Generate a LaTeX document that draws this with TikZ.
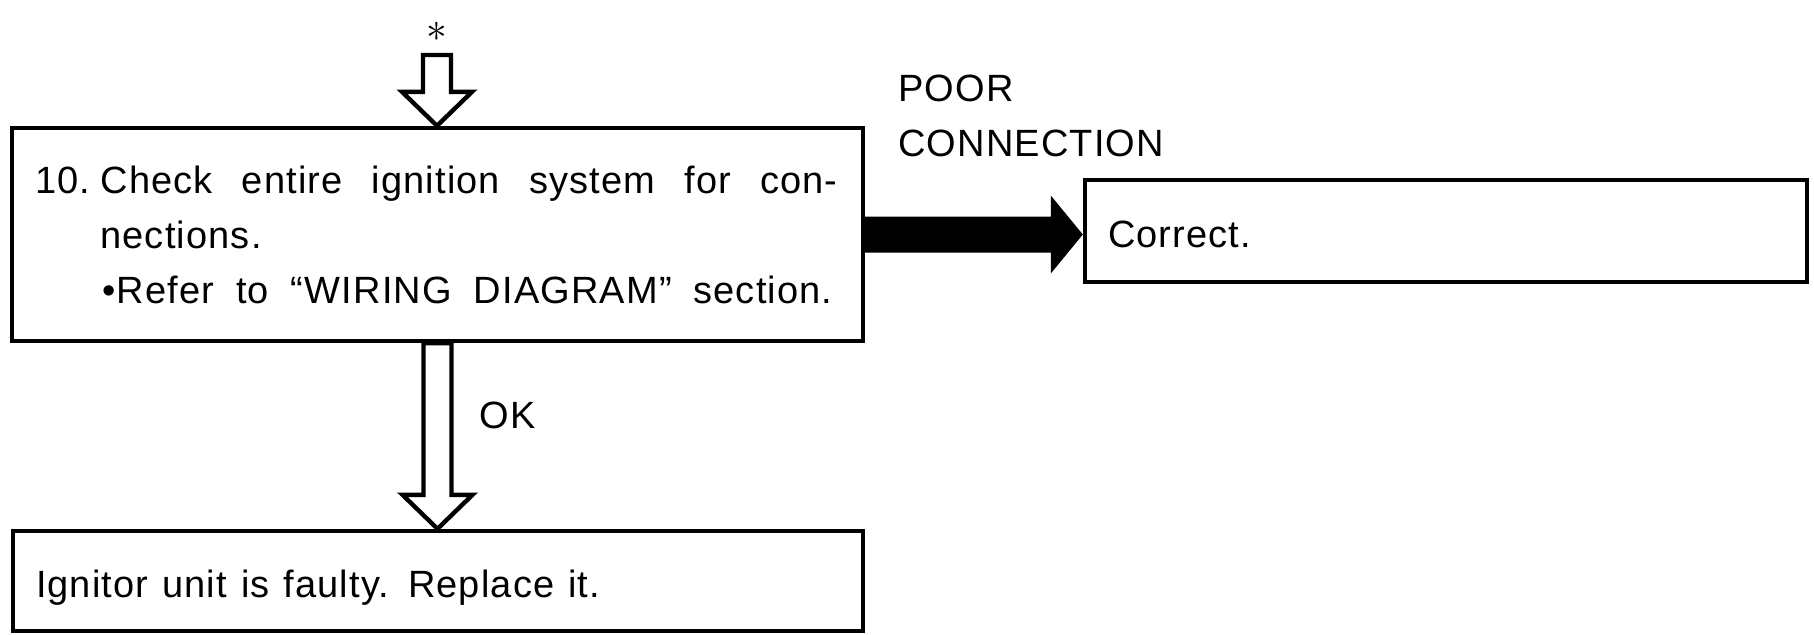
\documentclass[tikz,border=0pt]{standalone}
\usepackage{fontspec}
\setmainfont{Liberation Sans}[LetterSpace=3]
\usetikzlibrary{calc}

\tikzset{
  box/.style={draw,line width=2.2pt,inner xsep=11.5pt,align=left},
  onebox/.style={box,text height=16pt,text depth=0pt},
  hollow/.style={draw,line width=2.2pt,
    to path={let \p1=(\tikztostart),\p2=(\tikztotarget) in
      (\x1-7pt,\y1)--(\x1-7pt,\y2+17pt)--(\x1-17.5pt,\y2+17pt)--(\x1,\y2)
      --(\x1+17.5pt,\y2+17pt)--(\x1+7pt,\y2+17pt)--(\x1+7pt,\y1)--cycle}},
  heavy/.style={fill=black,
    to path={let \p1=(\tikztostart),\p2=(\tikztotarget) in
      (\x1,\y1+9pt)--(\x2-16pt,\y1+9pt)--(\x2-16pt,\y1+19.5pt)--(\x2,\y1)
      --(\x2-16pt,\y1-19.5pt)--(\x2-16pt,\y1-9pt)--(\x1,\y1-9pt)--cycle}}
}

\begin{document}
\begin{tikzpicture}[x=0.5pt,y=-0.5pt,font=\fontsize{19}{27.5}\selectfont]
\useasboundingbox (0,0) rectangle (1814,634);
\node[inner sep=0pt] (star) at (437,32) {\fontsize{21}{21}\selectfont$\ast$};
\coordinate (entry) at (437,55);
\node[box,minimum width=425.5pt,minimum height=106.5pt,text width=402pt] (check) at (437.5,234.5)
  {\makebox[32.5pt][l]{10.}\makebox[368.5pt][s]{Check\hfill entire\hfill ignition\hfill system\hfill for\hfill con-}\\
   \hspace*{32.5pt}nections.\\
   \hspace*{33.5pt}\makebox[365pt][s]{\textbullet Refer\hfill to\hfill ``WIRING\hfill DIAGRAM''\hfill section.}};
\node[onebox,minimum width=361pt,minimum height=51pt,text width=338pt] (correct) at (1446,231) {Correct.};
\node[onebox,minimum width=425pt,minimum height=50pt,text width=402pt] (ignitor) at (438,581)
  {\spaceskip=7pt\relax Ignitor unit is faulty. Replace it.};
\node[anchor=north west,inner sep=0pt,align=left] (poor) at (898,75) {POOR\\CONNECTION};
\node[anchor=base west,inner sep=0pt] (ok) at (479,428) {OK};
\draw[hollow] (entry) to (check.north);
\draw[hollow] (check.south) to (ignitor.north);
\path[heavy] (check.east) to (correct.west);
\end{tikzpicture}
\end{document}
